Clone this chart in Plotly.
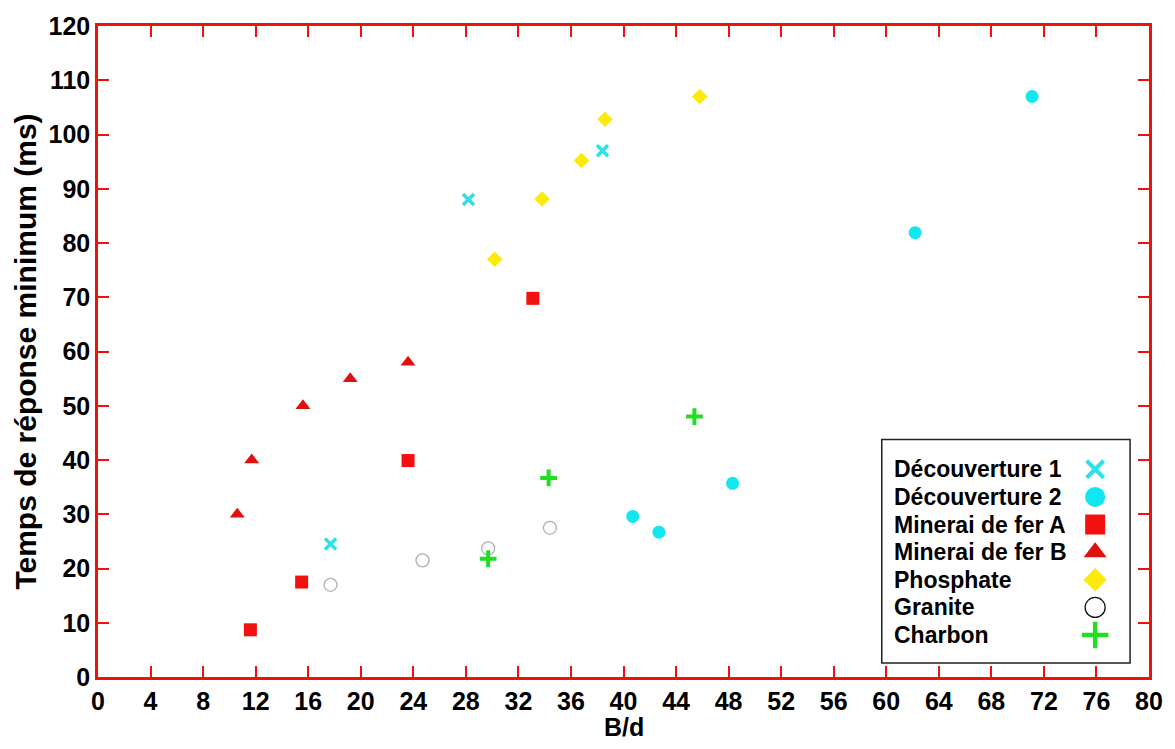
import plotly.graph_objects as go

# Measured minimum response time vs. B/d ratio, per material
decouverture1_x = [17.7, 28.2, 38.4]
decouverture1_y = [24.5, 88.0, 97.0]

decouverture2_x = [40.7, 42.7, 48.3, 62.2, 71.1]
decouverture2_y = [29.6, 26.7, 35.7, 81.9, 107.0]

minerai_a_x = [11.6, 15.5, 23.6, 33.1]
minerai_a_y = [8.7, 17.5, 39.9, 69.8]

minerai_b_x = [10.6, 11.7, 15.6, 19.2, 23.6]
minerai_b_y = [30.0, 40.0, 50.0, 55.0, 58.0]

phosphate_x = [30.2, 33.8, 36.8, 38.6, 45.8]
phosphate_y = [77.0, 88.1, 95.2, 102.8, 107.0]

granite_x = [17.7, 24.7, 29.7, 34.4]
granite_y = [17.0, 21.5, 23.7, 27.5]

charbon_x = [29.7, 34.3, 45.4]
charbon_y = [21.8, 36.7, 48.0]

x_ticks = list(range(0, 81, 4))
y_ticks = list(range(0, 121, 10))

series_names = ["Découverture 1", "Découverture 2", "Minerai de fer A",
                "Minerai de fer B", "Phosphate", "Granite", "Charbon"]

FONT = "Liberation Sans, Arial, sans-serif"
AXIS_RED = "#f01010"

styles = [
    dict(symbol="x-thin-open", color="#2ee0e8", line=dict(color="#2ee0e8", width=3.5)),
    dict(symbol="circle", color="#12e6f0", line=dict(width=0)),
    dict(symbol="square", color="#f21010", line=dict(width=0)),
    dict(symbol="triangle-up", color="#e01010", line=dict(width=0)),
    dict(symbol="diamond", color="#fbea0a", line=dict(width=0)),
    dict(symbol="circle-open", color="#b0b0b0", line=dict(color="#b0b0b0", width=1.3)),
    dict(symbol="cross-thin-open", color="#22dd22", line=dict(color="#22dd22", width=4)),
]
plot_sizes = [11, 13, 13, 13, 12, 13, 12]
legend_sizes = [17, 20, 20, 20, 18, 20, 19]

data = [
    (decouverture1_x, decouverture1_y),
    (decouverture2_x, decouverture2_y),
    (minerai_a_x, minerai_a_y),
    (minerai_b_x, minerai_b_y),
    (phosphate_x, phosphate_y),
    (granite_x, granite_y),
    (charbon_x, charbon_y),
]

fig = go.Figure()

for name, (xs, ys), st, sz in zip(series_names, data, styles, plot_sizes):
    fig.add_trace(go.Scatter(
        x=xs, y=ys, mode="markers", name=name, showlegend=False,
        marker=dict(symbol=st["symbol"], color=st["color"], size=sz, line=st["line"]),
    ))

# Legend box with text on the left and the symbol on the right
W, H = 1175, 749
ML, MR, MT, MB = 98, 23, 22, 72
PW, PH = W - ML - MR, H - MT - MB


def px_x(p):
    return (p - ML) / PW


def px_y(p):
    return (H - MB - p) / PH


row0, row_step = 468, 27.8
rows_y = [px_y(row0 + i * row_step) for i in range(len(series_names))]
key_x = px_x(1098)
text_x = px_x(894)

fig.add_shape(type="rect", xref="paper", yref="paper",
              x0=px_x(884), x1=px_x(1133), y0=px_y(663), y1=px_y(438),
              line=dict(color="#222222", width=1.5), fillcolor="white", layer="below")

for name, yk in zip(series_names, rows_y):
    fig.add_annotation(x=text_x, y=yk, xref="paper", yref="paper", text=name,
                       showarrow=False, xanchor="left", yanchor="middle",
                       font=dict(family=FONT, size=23, color="black", weight="bold"))

legend_line_styles = list(styles)
legend_line_styles[5] = dict(symbol="circle-open", color="#111111", line=dict(color="#111111", width=1.3))
for i, (st, sz) in enumerate(zip(legend_line_styles, legend_sizes)):
    fig.add_trace(go.Scatter(
        x=[key_x], y=[rows_y[i]], xaxis="x2", yaxis="y2", mode="markers",
        showlegend=False, hoverinfo="skip",
        marker=dict(symbol=st["symbol"], color=st["color"], size=sz,
                    line=dict(color=st["line"].get("color", st["color"]),
                              width=st["line"]["width"] + (0.5 if i in (0, 6) else 0))),
    ))

# x-axis title placed as text under the tick labels
fig.add_annotation(x=0.5, y=px_y(727), xref="paper", yref="paper", text="B/d",
                   showarrow=False, xanchor="center", yanchor="middle", borderpad=0,
                   font=dict(family=FONT, size=25, color="black", weight="bold"))

axis_common = dict(
    showgrid=False, zeroline=False, showline=True, linecolor=AXIS_RED, linewidth=2.5,
    mirror="ticks", ticks="inside", ticklen=11, tickwidth=2.2, tickcolor=AXIS_RED,
    tickfont=dict(family=FONT, size=25, color="black", weight="bold"),
)

fig.update_layout(
    width=W, height=H,
    margin=dict(l=ML, r=MR, t=MT, b=MB),
    paper_bgcolor="white", plot_bgcolor="white",
    xaxis=dict(range=[0, 80], tickvals=x_ticks, ticktext=[str(v) for v in x_ticks],
               **axis_common),
    yaxis=dict(range=[0, 120], tickvals=y_ticks, ticktext=[str(v) for v in y_ticks],
               title=dict(text="Temps de réponse minimum (ms)", standoff=4,
                          font=dict(family=FONT, size=30, color="black", weight="bold")),
               **axis_common),
    xaxis2=dict(range=[0, 1], overlaying="x", visible=False, anchor="y2"),
    yaxis2=dict(range=[0, 1], overlaying="y", visible=False, anchor="x2"),
)

fig.write_html("out.html")
